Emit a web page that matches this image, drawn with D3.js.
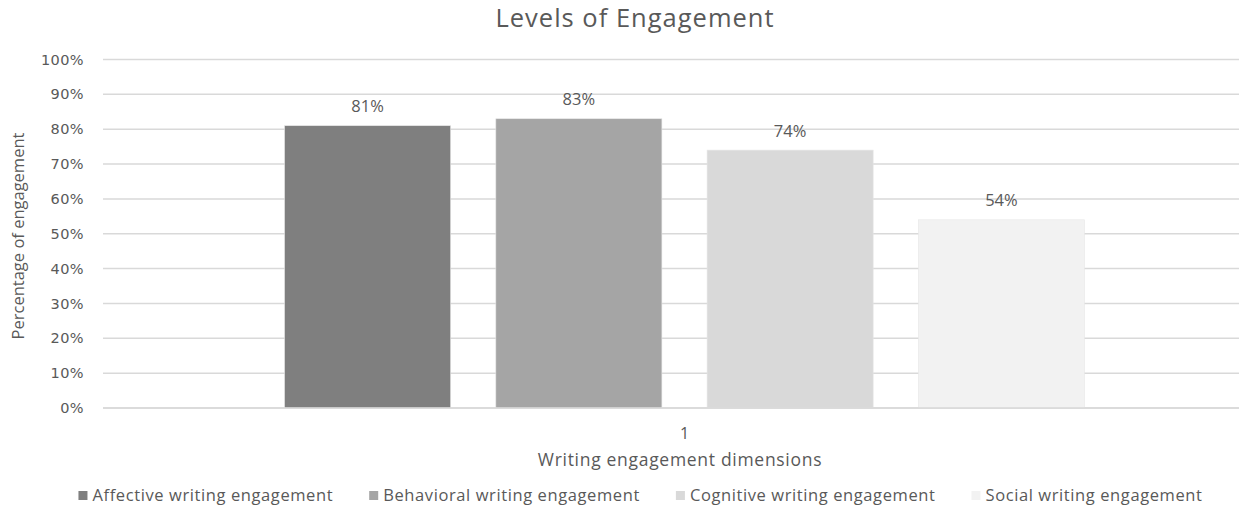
<!DOCTYPE html>
<html>
<head>
<meta charset="utf-8">
<script src="https://cdn.jsdelivr.net/npm/d3@7"></script>
<style>
  body { margin: 0; background: #fff; }
  svg { display: block; }
  text { fill: #595959; }
</style>
</head>
<body>
<svg id="chart" width="1239" height="508"></svg>
<script>
// ----------------------------
// Data
// ----------------------------
const categories = ["1"];
const seriesNames = [
  "Affective writing engagement",
  "Behavioral writing engagement",
  "Cognitive writing engagement",
  "Social writing engagement"
];
const seriesValues = [0.81, 0.83, 0.74, 0.54];
const seriesColors = ["#7f7f7f", "#a5a5a5", "#d9d9d9", "#f2f2f2"];
const yTicks = [0, 0.1, 0.2, 0.3, 0.4, 0.5, 0.6, 0.7, 0.8, 0.9, 1.0];

// ----------------------------
// Layout
// ----------------------------
const svg = d3.select("#chart");
const plot = { left: 103, right: 1266, top: 59.5, bottom: 408 };

const x0 = d3.scaleBand()
  .domain(categories)
  .range([plot.left, plot.right])
  .paddingInner(0)
  .paddingOuter(0.227);

const x1 = d3.scaleBand()
  .domain(seriesNames)
  .range([0, x0.bandwidth()])
  .paddingInner(0.214)
  .paddingOuter(0);

const y = d3.scaleLinear().domain([0, 1]).range([plot.bottom, plot.top]);

// ----------------------------
// Gridlines
// ----------------------------
svg.append("g")
  .selectAll("line")
  .data(yTicks)
  .join("line")
  .attr("x1", plot.left)
  .attr("x2", plot.right)
  .attr("y1", d => y(d))
  .attr("y2", d => y(d))
  .attr("stroke", "#d9d9d9")
  .attr("stroke-width", 1.5);

// y tick labels
const yAxis = svg.append("g")
  .attr("transform", `translate(${plot.left},0)`)
  .call(d3.axisLeft(y).tickValues(yTicks).tickFormat(d3.format(".0%")).tickSize(0).tickPadding(19));
yAxis.select(".domain").remove();
yAxis.selectAll("text")
  .attr("font-family", "DejaVu Sans")
  .attr("font-size", 14.5)
  .attr("letter-spacing", 0.4)
  .attr("fill", "#595959");

// ----------------------------
// Bars
// ----------------------------
const groups = svg.append("g")
  .selectAll("g")
  .data(categories)
  .join("g")
  .attr("transform", d => `translate(${x0(d)},0)`);

groups.selectAll("rect")
  .data(seriesNames.map((name, i) => ({ name, value: seriesValues[i], color: seriesColors[i] })))
  .join("rect")
  .attr("x", d => x1(d.name))
  .attr("y", d => y(d.value))
  .attr("width", x1.bandwidth())
  .attr("height", d => y(0) - y(d.value))
  .attr("fill", d => d.color)
  .attr("stroke", "#e6e6e6")
  .attr("stroke-width", 0.6);

groups.selectAll("text.lbl")
  .data(seriesNames.map((name, i) => ({ name, value: seriesValues[i] })))
  .join("text")
  .attr("class", "lbl")
  .attr("x", d => x1(d.name) + x1.bandwidth() / 2)
  .attr("y", d => y(d.value) - 13.5)
  .attr("text-anchor", "middle")
  .attr("font-family", "Open Sans")
  .attr("font-size", 16.5)
  .text(d => d3.format(".0%")(d.value));

// x axis baseline + category label
svg.append("line")
  .attr("x1", plot.left).attr("x2", plot.right)
  .attr("y1", y(0)).attr("y2", y(0))
  .attr("stroke", "#d9d9d9").attr("stroke-width", 1.5);

svg.append("g")
  .selectAll("text")
  .data(categories)
  .join("text")
  .attr("x", d => x0(d) + x0.bandwidth() / 2)
  .attr("y", 439)
  .attr("text-anchor", "middle")
  .attr("font-family", "Open Sans")
  .attr("font-size", 16)
  .text(d => d);

// ----------------------------
// Titles
// ----------------------------
svg.append("text")
  .attr("x", 635)
  .attr("y", 27)
  .attr("text-anchor", "middle")
  .attr("font-family", "Open Sans")
  .attr("font-size", 25.5)
  .attr("letter-spacing", 1)
  .text("Levels of Engagement");

svg.append("text")
  .attr("x", 680)
  .attr("y", 466)
  .attr("text-anchor", "middle")
  .attr("font-family", "Open Sans")
  .attr("font-size", 17.5)
  .attr("letter-spacing", 0.7)
  .text("Writing engagement dimensions");

svg.append("text")
  .attr("transform", "translate(24,236) rotate(-90)")
  .attr("text-anchor", "middle")
  .attr("font-family", "Open Sans")
  .attr("font-size", 16.5)
  .text("Percentage of engagement");

// ----------------------------
// Legend
// ----------------------------
const legend = svg.append("g");
const items = legend.selectAll("g")
  .data(seriesNames)
  .join("g");

items.append("rect")
  .attr("width", 9).attr("height", 9)
  .attr("y", -10)
  .attr("fill", (d, i) => seriesColors[i]);

items.append("text")
  .attr("x", 14)
  .attr("font-family", "Open Sans")
  .attr("font-size", 16.5)
  .attr("letter-spacing", 0.6)
  .text(d => d);

let cursor = 0;
const offsets = [];
items.each(function() {
  offsets.push(cursor);
  const w = 14 + d3.select(this).select("text").node().getComputedTextLength();
  cursor += w + 36;
});
const totalW = cursor - 36;
items.attr("transform", (d, i) => `translate(${640.5 - totalW / 2 + offsets[i]},501)`);
</script>
</body>
</html>
